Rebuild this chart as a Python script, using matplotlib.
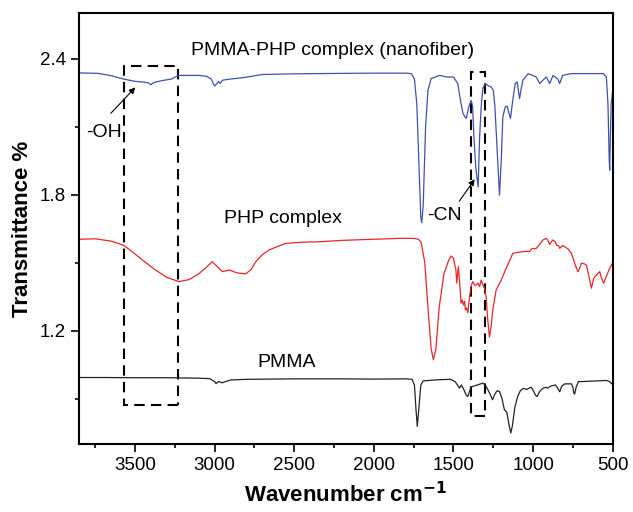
import matplotlib
matplotlib.use('Agg')
import matplotlib.pyplot as plt
from matplotlib.patches import Rectangle
from matplotlib.ticker import MultipleLocator

plt.rcParams['font.family'] = ['Liberation Sans', 'DejaVu Sans']

# ---- data (wavenumber, transmittance) ----
pmma_wn = [3850, 3700, 3500, 3300, 3100, 3030, 3000, 2990, 2975, 2950, 2900, 2800,
           2500, 2200, 2000, 1800, 1760, 1745, 1735, 1727, 1718, 1705, 1690, 1600,
           1520, 1490, 1470, 1462, 1450, 1435, 1420, 1410, 1400, 1390, 1375, 1350,
           1316, 1300, 1270, 1255, 1240, 1225, 1211, 1195, 1180, 1165, 1150, 1140,
           1130, 1115, 1097, 1080, 1060, 1040, 1020, 1011, 995, 985, 975, 960, 940,
           920, 909, 890, 860, 845, 833, 820, 800, 760, 750, 745, 739, 730, 715,
           700, 600, 540, 520, 510, 500]
pmma_t = [0.993, 0.993, 0.992, 0.992, 0.990, 0.988, 0.975, 0.966, 0.975, 0.970, 0.982, 0.985,
          0.987, 0.987, 0.986, 0.987, 0.985, 0.960, 0.850, 0.777, 0.850, 0.960, 0.978, 0.983,
          0.985, 0.975, 0.955, 0.946, 0.960, 0.940, 0.915, 0.909, 0.930, 0.950, 0.955, 0.960,
          0.968, 0.960, 0.920, 0.895, 0.920, 0.935, 0.931, 0.900, 0.850, 0.840, 0.780, 0.748,
          0.780, 0.860, 0.909, 0.935, 0.945, 0.940, 0.948, 0.950, 0.930, 0.915, 0.909, 0.930, 0.945,
          0.950, 0.946, 0.955, 0.960, 0.945, 0.930, 0.955, 0.965, 0.965, 0.950, 0.925, 0.920, 0.950, 0.975,
          0.975, 0.978, 0.980, 0.975, 0.968, 0.962]

php_wn = [3850, 3750, 3650, 3572, 3520, 3450, 3370, 3300, 3223, 3160, 3100, 3050, 3014,
          2980, 2951, 2906, 2860, 2804, 2770, 2741, 2700, 2657, 2600, 2552, 2450, 2343,
          2200, 2000, 1840, 1750, 1720, 1703, 1680, 1660, 1640, 1626, 1610, 1590, 1560,
          1530, 1515, 1500, 1494, 1485, 1479, 1474, 1469, 1460, 1452, 1445, 1437, 1430,
          1425, 1418, 1410, 1399, 1388, 1378, 1367, 1357, 1346, 1336, 1326, 1315, 1305,
          1295, 1285, 1274, 1263, 1253, 1232, 1200, 1169, 1127, 1100, 1064, 1040, 1022,
          1010, 1001, 990, 980, 960, 938, 917, 905, 896, 885, 875, 860, 850, 840, 833,
          815, 802, 780, 760, 740, 728, 718, 705, 697, 680, 665, 650, 634, 620, 603,
          582, 570, 557, 540, 519, 500]
php_t = [1.603, 1.605, 1.595, 1.577, 1.550, 1.510, 1.467, 1.435, 1.416, 1.425, 1.450, 1.480, 1.504,
         1.480, 1.460, 1.467, 1.455, 1.450, 1.470, 1.504, 1.535, 1.556, 1.572, 1.585, 1.590, 1.592,
         1.598, 1.603, 1.607, 1.607, 1.603, 1.590, 1.500, 1.300, 1.120, 1.071, 1.120, 1.300, 1.450,
         1.510, 1.529, 1.520, 1.497, 1.470, 1.409, 1.450, 1.482, 1.400, 1.321, 1.335, 1.313, 1.330,
         1.291, 1.300, 1.279, 1.350, 1.400, 1.416, 1.400, 1.401, 1.410, 1.394, 1.423, 1.400, 1.387,
         1.350, 1.250, 1.171, 1.220, 1.291, 1.379, 1.423, 1.475, 1.541, 1.545, 1.548, 1.550, 1.548,
         1.560, 1.563, 1.560, 1.563, 1.580, 1.600, 1.607, 1.595, 1.580, 1.592, 1.600, 1.590, 1.575, 1.575, 1.563,
         1.575, 1.570, 1.560, 1.541, 1.500, 1.475, 1.460, 1.480, 1.497, 1.495, 1.489, 1.440, 1.387, 1.430, 1.445,
         1.460, 1.430, 1.409, 1.440, 1.475, 1.500]

fiber_wn = [3850, 3730, 3650, 3572, 3500, 3440, 3415, 3400, 3380, 3330, 3270, 3226, 3100,
            3050, 3020, 3005, 2997, 2985, 2975, 2965, 2950, 2900, 2800, 2700, 2500, 2200,
            2000, 1800, 1765, 1745, 1730, 1715, 1705, 1699, 1690, 1675, 1660, 1640, 1588,
            1540, 1500, 1473, 1456, 1441, 1428, 1420, 1404, 1389, 1380, 1372, 1360, 1345,
            1336, 1326, 1315, 1300, 1280, 1263, 1250, 1240, 1228, 1211, 1200, 1190, 1175,
            1163, 1142, 1127, 1112, 1100, 1085, 1074, 1064, 1030, 980, 959, 938, 917, 896,
            875, 845, 833, 815, 760, 708, 560, 540, 530, 522, 519, 515, 510, 500]
fiber_t = [2.337, 2.335, 2.325, 2.310, 2.300, 2.296, 2.293, 2.285, 2.295, 2.303, 2.310, 2.326, 2.326,
           2.322, 2.310, 2.285, 2.280, 2.290, 2.300, 2.290, 2.305, 2.310, 2.318, 2.330, 2.333, 2.335,
           2.336, 2.336, 2.334, 2.310, 2.200, 1.900, 1.700, 1.676, 1.750, 2.100, 2.260, 2.312, 2.326,
           2.319, 2.319, 2.290, 2.216, 2.160, 2.143, 2.136, 2.187, 2.216, 2.190, 2.060, 1.920, 1.834,
           2.050, 2.187, 2.270, 2.290, 2.280, 2.275, 2.260, 2.190, 2.030, 1.798, 1.950, 2.143, 2.187,
           2.190, 2.136, 2.220, 2.290, 2.297, 2.224, 2.270, 2.305, 2.334, 2.319, 2.290, 2.305, 2.319, 2.290,
           2.326, 2.310, 2.290, 2.326, 2.334, 2.334, 2.334, 2.319, 2.200, 1.950, 1.908, 2.050, 2.200, 2.260]

# ---- figure ----
fig = plt.figure(figsize=(6.33, 5.12), dpi=100)
ax = fig.add_axes([0.125, 0.133, 0.843, 0.841])

ax.plot(pmma_wn, pmma_t, color='#222222', linewidth=0.9)
ax.plot(php_wn, php_t, color='#e8262a', linewidth=0.9)
ax.plot(fiber_wn, fiber_t, color='#3f51b0', linewidth=0.9)

ax.set_xlim(3850, 500)
ax.set_ylim(0.7, 2.6)

ax.xaxis.set_major_locator(MultipleLocator(500))
ax.xaxis.set_minor_locator(MultipleLocator(250))
ax.set_yticks([1.2, 1.8, 2.4])
ax.set_yticks([0.9, 1.5, 2.1], minor=True)
ax.tick_params(which='major', direction='out', length=5.5, width=1.2, labelsize=13.5,
               top=False, right=False, pad=4)
ax.tick_params(which='minor', direction='out', length=3, width=1.2, top=False, right=False)
for sp in ax.spines.values():
    sp.set_linewidth(1.5)

ax.set_xlabel('Wavenumber cm$^{\\mathbf{-1}}$', fontsize=16, fontweight='bold', labelpad=6)
ax.set_ylabel('Transmittance %', fontsize=16, fontweight='bold', labelpad=5)

# curve labels
ax.text(3148, 2.437, 'PMMA-PHP complex (nanofiber)', fontsize=14, ha='left', va='center')
ax.text(2940, 1.695, 'PHP complex', fontsize=14, ha='left', va='center')
ax.text(2547, 1.058, 'PMMA', fontsize=14, ha='center', va='center')

# dashed boxes
dash = (0, (5, 3))
ax.add_patch(Rectangle((3228, 0.870), 3569 - 3228, 2.367 - 0.870, fill=False,
                       edgecolor='black', linewidth=1.5, linestyle=dash))
ax.add_patch(Rectangle((1299, 0.821), 1389 - 1299, 2.341 - 0.821, fill=False,
                       edgecolor='black', linewidth=1.5, linestyle=dash))

# arrows
arrow = dict(arrowstyle='-|>', color='black', linewidth=0.8, mutation_scale=9)
ax.annotate('', xy=(3485, 2.282), xytext=(3663, 2.150), arrowprops=arrow)
ax.text(3695, 2.075, '-OH', fontsize=14, ha='center', va='center')
ax.annotate('', xy=(1357, 1.878), xytext=(1473, 1.761), arrowprops=arrow)
ax.text(1557, 1.71, '-CN', fontsize=14, ha='center', va='center')

fig.savefig('out.png', dpi=100)
